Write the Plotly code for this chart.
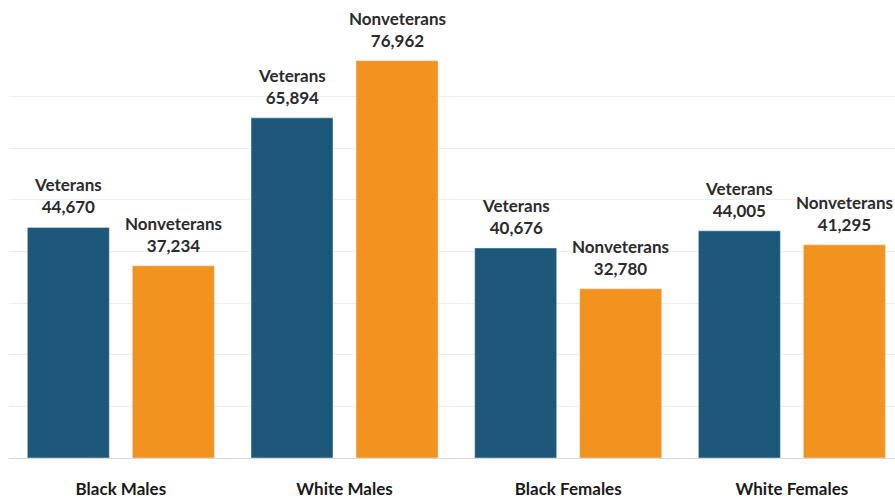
import plotly.graph_objects as go

groups = ["Black Males", "White Males", "Black Females", "White Females"]
veterans = [44670, 65894, 40676, 44005]
nonveterans = [37234, 76962, 32780, 41295]

NAVY = "#1d587b"
ORANGE = "#f2931f"
FONT = "Lato, Open Sans, sans-serif"
BARGAP = 0.061
BARGROUPGAP = 0.219

series = [("Veterans", veterans, NAVY), ("Nonveterans", nonveterans, ORANGE)]

fig = go.Figure()
for name, values, color in series:
    fig.add_trace(go.Bar(x=groups, y=values, name=name, marker_color=color))

# value labels above each bar, centred on the bar's slot within the group
slot = (1 - BARGAP) / len(series)
for i, (name, values, _) in enumerate(series):
    offset = (i - (len(series) - 1) / 2) * slot
    for j, v in enumerate(values):
        fig.add_annotation(
            x=j + offset, y=v, xref="x", yref="y",
            text=f"{name}<br>{v:,}", showarrow=False,
            yanchor="bottom", yshift=8,
            font=dict(family=FONT, size=17, color="#2b2b2b", weight="bold"),
        )

fig.update_layout(
    width=895, height=501,
    margin=dict(l=9, r=0, t=45, b=43),
    barmode="group", bargap=BARGAP, bargroupgap=BARGROUPGAP,
    plot_bgcolor="white", paper_bgcolor="white",
    showlegend=False,
    font=dict(family=FONT, color="#1a1a1a"),
)
fig.update_xaxes(
    range=[-0.5, 3.461], showgrid=False, zeroline=False, showline=False,
    ticks="outside", ticklen=16, tickcolor="rgba(0,0,0,0)",
    tickfont=dict(family=FONT, size=17, color="#1a1a1a", weight="bold"),
)
fig.update_yaxes(
    range=[0, 80000], dtick=10000, showticklabels=False,
    showgrid=True, gridcolor="#eeeeee", gridwidth=1,
    zeroline=True, zerolinecolor="#d9d9d9", zerolinewidth=1,
)

fig.write_html("out.html")
